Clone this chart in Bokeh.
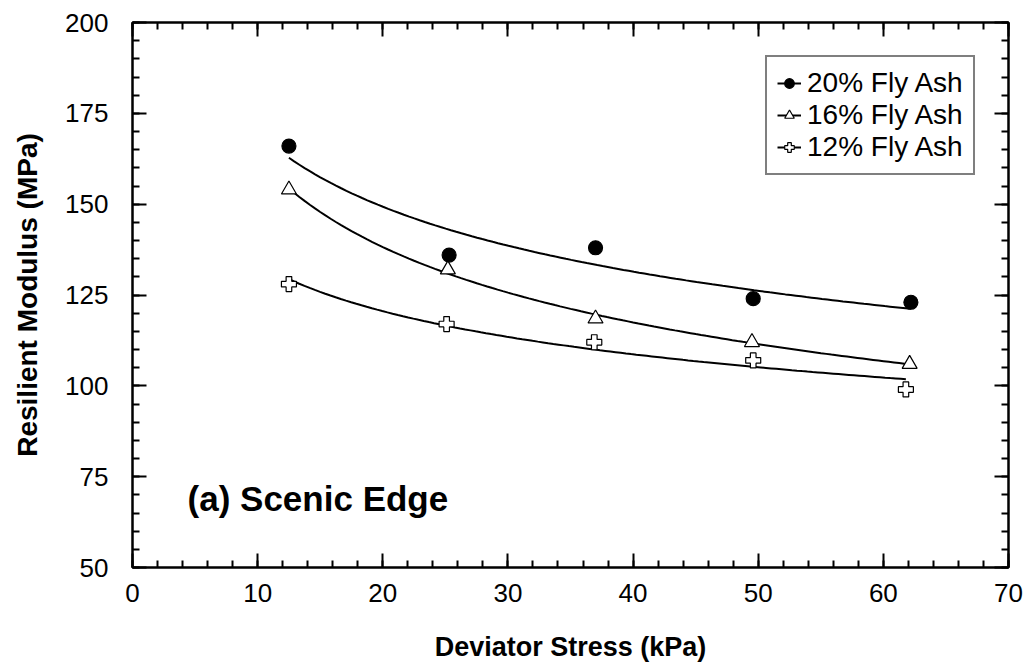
import numpy as np
from bokeh.plotting import figure
from bokeh.models import (Range1d, LinearAxis, SingleIntervalTicker, Legend,
                          LegendItem, CustomJSTickFormatter)
from bokeh.core.properties import value
from bokeh.embed import file_html
from bokeh.resources import INLINE

FONT = "Liberation Sans"

# Measured resilient modulus (MPa) vs deviator stress (kPa)
stress_20 = [12.5, 25.3, 37.0, 49.6, 62.2]
modulus_20 = [166, 136, 138, 124, 123]
stress_16 = [12.5, 25.2, 37.0, 49.5, 62.1]
modulus_16 = [154, 132, 118.5, 112, 106]
stress_12 = [12.5, 25.1, 36.9, 49.6, 61.8]
modulus_12 = [128, 117, 112, 107, 99]
series_labels = ["20% Fly Ash", "16% Fly Ash", "12% Fly Ash"]


def power_fit(x, y, n=120):
    """Least-squares power-law trend y = a * x^b through the points."""
    x = np.asarray(x, float)
    y = np.asarray(y, float)
    b, ln_a = np.polyfit(np.log(x), np.log(y), 1)
    xs = np.linspace(x.min(), x.max(), n)
    return xs, np.exp(ln_a) * xs ** b


p = figure(width=1027, height=664,
           x_range=Range1d(0, 70), y_range=Range1d(50, 200),
           output_backend="svg", toolbar_location=None,
           min_border_left=132, min_border_right=19,
           min_border_top=22, min_border_bottom=96)
p.grid.visible = False
p.outline_line_color = "black"
p.outline_line_width = 2
p.background_fill_color = "white"
p.border_fill_color = "white"

bottom_axis = p.below[0]
left_axis = p.left[0]

# mirrored tick marks on the top and right edges of the frame
top_axis = LinearAxis(formatter=CustomJSTickFormatter(code="return ''"))
right_axis = LinearAxis(formatter=CustomJSTickFormatter(code="return ''"))
p.add_layout(top_axis, "above")
p.add_layout(right_axis, "right")

x_axes = [bottom_axis, top_axis]
y_axes = [left_axis, right_axis]
for ax in x_axes:
    ax.ticker = SingleIntervalTicker(interval=10, num_minor_ticks=5)
for ax in y_axes:
    ax.ticker = SingleIntervalTicker(interval=25, num_minor_ticks=5)

for ax in x_axes + y_axes:
    ax.axis_line_width = 2
    ax.axis_line_color = "black"
    ax.major_tick_in = 14
    ax.major_tick_out = 0
    ax.minor_tick_in = 7
    ax.minor_tick_out = 0
    ax.major_tick_line_width = 2
    ax.minor_tick_line_width = 2
    ax.major_tick_line_color = "black"
    ax.minor_tick_line_color = "black"
    ax.major_label_text_font = FONT
    ax.major_label_text_font_size = "26px"
    ax.major_label_text_color = "black"
    ax.axis_label_text_font = FONT
    ax.axis_label_text_font_style = "bold"
    ax.axis_label_text_color = "black"

for ax in (top_axis, right_axis):
    ax.major_label_standoff = 0

bottom_axis.axis_label = "Deviator Stress (kPa)"
bottom_axis.axis_label_text_font_size = "27px"
bottom_axis.major_label_standoff = 16
bottom_axis.axis_label_standoff = 27
left_axis.axis_label = "Resilient Modulus (MPa)"
left_axis.axis_label_text_font_size = "28px"
left_axis.major_label_standoff = 24
left_axis.axis_label_standoff = 19

series = [
    (stress_20, modulus_20, "circle", "black", 14),
    (stress_16, modulus_16, "triangle", "white", 15),
    (stress_12, modulus_12, "plus", "white", 15),
]

items = []
for (xs, ys, marker, fill, size), label in zip(series, series_labels):
    fx, fy = power_fit(xs, ys)
    line_r = p.line(fx, fy, line_color="black", line_width=2)
    mark_r = p.scatter(xs, ys, marker=marker, size=size,
                       fill_color=fill, line_color="black", line_width=1.2)
    items.append(LegendItem(label=label, renderers=[line_r, mark_r]))

legend = Legend(items=items, location=(633, 392))
legend.border_line_color = "black"
legend.border_line_width = 2.5
legend.background_fill_color = "white"
legend.background_fill_alpha = 1
legend.label_text_font = FONT
legend.label_text_font_size = "28px"
legend.label_text_color = "black"
legend.glyph_width = 24
legend.glyph_height = 24
legend.label_height = 24
legend.label_standoff = 6
legend.spacing = 0
legend.padding = 10
legend.margin = 0
p.add_layout(legend)

p.text(x=[4.4], y=[69.0], text=["(a) Scenic Edge"],
       text_font=value(FONT), text_font_style="bold",
       text_font_size="35px", text_baseline="alphabetic",
       text_align="left", text_color="black")

open("out.html", "w").write(file_html(p, INLINE))
